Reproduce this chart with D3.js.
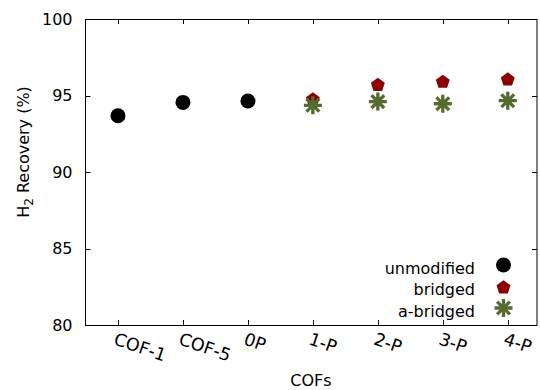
<!DOCTYPE html>
<html><head><meta charset="utf-8">
<script src="https://cdn.jsdelivr.net/npm/d3@7"></script>
<style>body{margin:0;background:#fff}svg{display:block}text{font-family:"DejaVu Sans",sans-serif}</style>
</head><body><svg id="c" width="540" height="390"></svg>
<script>
const categories = ["COF-1","COF-5","0P","1-P","2-P","3-P","4-P"];
const unmodified = [93.68, 94.55, 94.64, null, null, null, null];
const bridged = [null, null, null, 94.8, 95.75, 95.95, 96.1];
const aBridged = [null, null, null, 94.36, 94.6, 94.46, 94.66];
const yTicks = [80, 85, 90, 95, 100];

const svg = d3.select("#c");
const L = 85.5, R = 537, T = 19, B = 325;
const x = d3.scaleLinear().domain([-0.5, 6.45]).range([L, R]);
const y = d3.scaleLinear().domain([80, 100]).range([B, T]);
const fs = 16;

// ticks
const tl = 5;
const g = svg.append("g").attr("stroke", "#000").attr("stroke-width", 1);
categories.forEach((c, i) => {
  const xi = Math.round(x(i)) + 0.5;
  g.append("line").attr("x1", xi).attr("x2", xi).attr("y1", B).attr("y2", B - tl);
  g.append("line").attr("x1", xi).attr("x2", xi).attr("y1", T).attr("y2", T + tl);
});
yTicks.forEach(v => {
  const yi = Math.round(y(v)) + 0.5;
  g.append("line").attr("x1", L).attr("x2", L + tl).attr("y1", yi).attr("y2", yi);
  g.append("line").attr("x1", R).attr("x2", R - tl).attr("y1", yi).attr("y2", yi);
});
svg.append("rect").attr("x", L).attr("y", T + 0.5).attr("width", R - L).attr("height", B - T)
  .attr("fill", "none").attr("stroke", "#000").attr("stroke-width", 1);

// y tick labels
svg.append("g").selectAll("text").data(yTicks).join("text")
  .attr("x", 72.5).attr("y", d => y(d) + 5.8).attr("text-anchor", "end")
  .attr("font-size", fs).text(d => d);

// x tick labels
svg.append("g").selectAll("text").data(categories).join("text")
  .attr("transform", (d, i) => `translate(${x(i) - 1},${B + 7}) rotate(19)`)
  .attr("text-anchor", "start").attr("dy", "0.73em")
  .attr("font-size", 17.5).text(d => d);

// axis titles
svg.append("text").attr("x", 311).attr("y", 386).attr("text-anchor", "middle")
  .attr("font-size", fs).text("COFs");
const yl = svg.append("text").attr("transform", `translate(28.5,152) rotate(-90)`)
  .attr("text-anchor", "middle").attr("font-size", fs);
yl.append("tspan").text("H");
yl.append("tspan").attr("font-size", 12).attr("dy", 4).text("2");
yl.append("tspan").attr("dy", -4).text(" Recovery (%)");

// markers
function pentagon(r) {
  const pts = d3.range(5).map(k => {
    const a = -Math.PI / 2 + k * 2 * Math.PI / 5;
    return [r * Math.cos(a), r * Math.sin(a)];
  });
  return "M" + pts.map(p => p.join(",")).join("L") + "Z";
}
function asterisk(r) {
  const d = r * Math.SQRT1_2;
  return `M${-r},0L${r},0M0,${-r}L0,${r}M${-d},${-d}L${d},${d}M${-d},${d}L${d},${-d}`;
}
const red = "#8b0000", green = "#556b2f";
function drawCircle(cx, cy) { svg.append("circle").attr("cx", cx).attr("cy", cy).attr("r", 7.5).attr("fill", "#000"); }
function drawPent(cx, cy) { svg.append("path").attr("d", pentagon(7.3)).attr("transform", `translate(${cx},${cy + 1})`).attr("fill", red); }
function drawAst(cx, cy) { svg.append("path").attr("d", asterisk(9)).attr("transform", `translate(${cx},${cy})`).attr("stroke", green).attr("stroke-width", 3.3).attr("fill", "none"); }

unmodified.forEach((v, i) => { if (v != null) drawCircle(x(i), y(v)); });
bridged.forEach((v, i) => { if (v != null) drawPent(x(i), y(v)); });
aBridged.forEach((v, i) => { if (v != null) drawAst(x(i), y(v)); });

// legend
const legend = [["unmodified", drawCircle], ["bridged", drawPent], ["a-bridged", drawAst]];
legend.forEach(([name, fn], k) => {
  const ly = 265 + k * 21.5;
  svg.append("text").attr("x", 475).attr("y", ly + 8.5).attr("text-anchor", "end").attr("font-size", fs).text(name);
  fn(503.5, ly);
});
</script></body></html>
